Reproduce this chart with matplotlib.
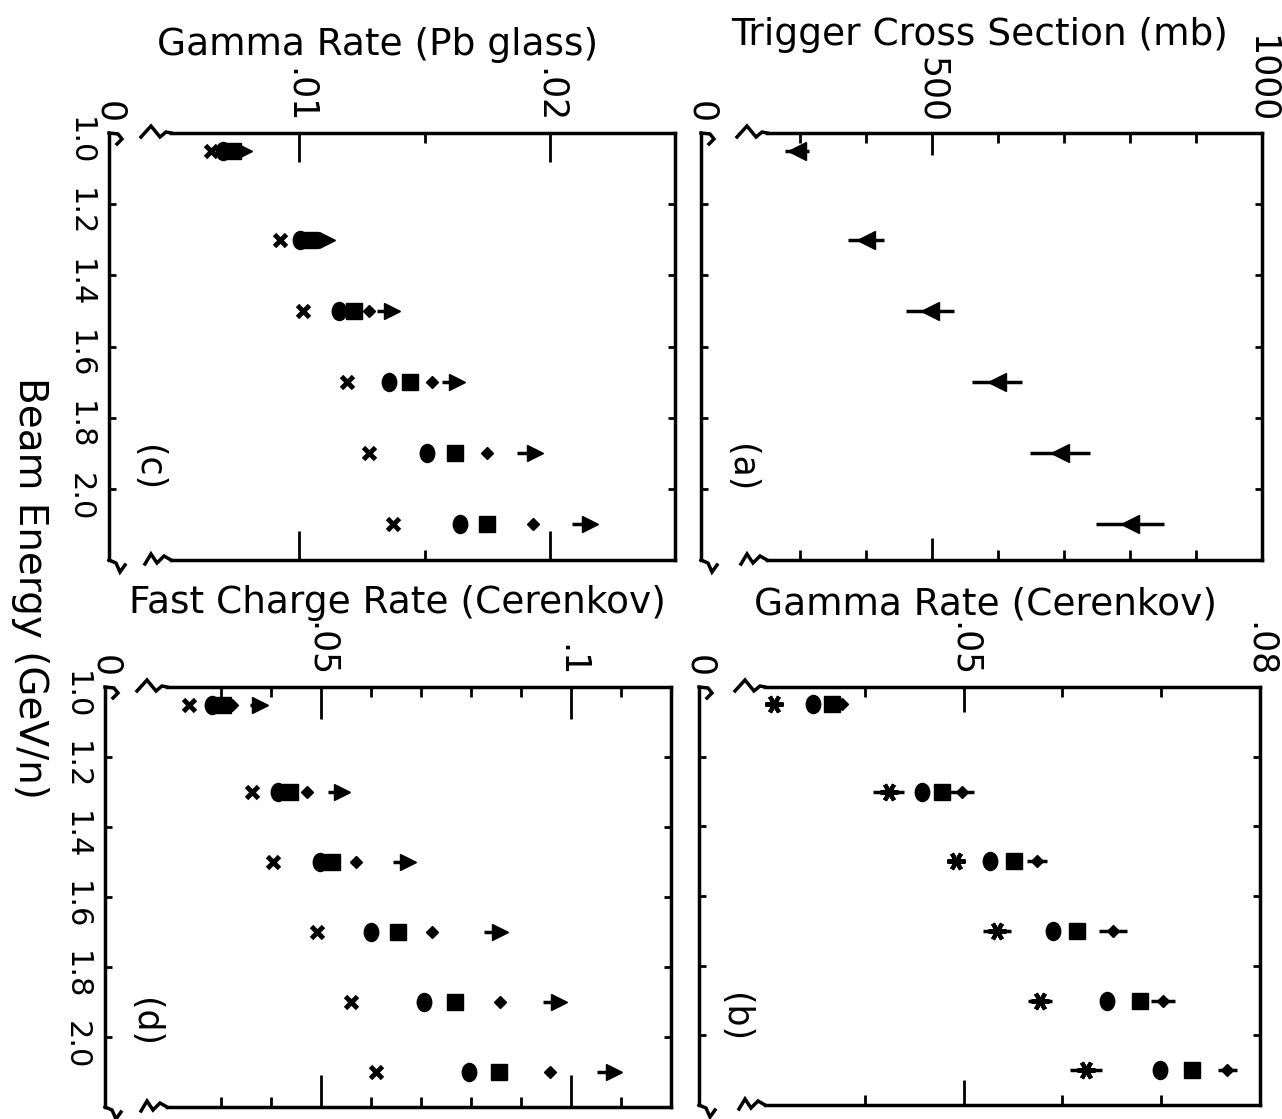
import numpy as np
import matplotlib
matplotlib.use('Agg')
import matplotlib.pyplot as plt
from matplotlib.lines import Line2D
from matplotlib.path import Path
import matplotlib.transforms as mtransforms

# beam energy of each row (GeV/n)
energy = [1.05, 1.3, 1.5, 1.7, 1.9, 2.1]
energy_ticks = [1.0, 1.2, 1.4, 1.6, 1.8, 2.0]
energy_labels = ['1.0', '1.2', '1.4', '1.6', '1.8', '2.0']

# (a) trigger cross section (mb)
sigma = [295, 400, 497, 598, 694, 800]
sigma_err = [18, 28, 36, 38, 45, 52]

# (c) gamma rate, Pb glass
c_cross = [0.00648, 0.00924, 0.01016, 0.0119, 0.0128, 0.01372]
c_circle = [0.00696, 0.01004, 0.0116, 0.0136, 0.0151, 0.0164]
c_square = [0.00736, 0.01044, 0.0122, 0.0144, 0.0162, 0.01748]
c_diamond = [0.0076, 0.0109, 0.0128, 0.0153, 0.0175, 0.01932]
c_arrow = [0.0078, 0.0111, 0.0137, 0.0163, 0.0194, 0.0216]
c_arrow_tail = [0.0004, 0.0005, 0.0006, 0.0006, 0.0007, 0.0007]

# (d) fast charge rate, Cerenkov
d_cross = [0.0236, 0.0362, 0.0404, 0.0492, 0.0559, 0.0609]
d_circle = [0.0282, 0.0414, 0.0498, 0.0600, 0.0706, 0.0796]
d_square = [0.0304, 0.0438, 0.0522, 0.0653, 0.0767, 0.0855]
d_diamond = [0.0322, 0.0472, 0.0569, 0.0722, 0.0857, 0.0958]
d_arrow = [0.0378, 0.0542, 0.0673, 0.0857, 0.0976, 0.1086]
d_arrow_tail = [0.002, 0.0028, 0.003, 0.0032, 0.0032, 0.0035]

# (b) gamma rate, Cerenkov
b_star = [0.0308, 0.0424, 0.0492, 0.0534, 0.0577, 0.0624]
b_star_err = [0.0, 0.0016, 0.0, 0.0014, 0.0012, 0.0016]
b_circle = [0.0347, 0.0458, 0.0527, 0.0590, 0.0645, 0.0699]
b_square = [0.0367, 0.0478, 0.0551, 0.0615, 0.0678, 0.0731]
b_diamond = [0.0377, 0.0498, 0.0574, 0.0651, 0.0702, 0.0767]
b_diamond_err = [0.0, 0.0012, 0.001, 0.0014, 0.0012, 0.001]

W, H = 1282, 1119
fig = plt.figure(figsize=(W / 100, H / 100), dpi=100)
FONT = 'DejaVu Sans'

oval = Path.unit_circle().transformed(mtransforms.Affine2D().scale(0.8, 1.0))
star = (6, 2, 90)


def box(l, t, r, b):
    return [l / W, 1 - b / H, (r - l) / W, (b - t) / H]


def zig(ax, pts, top, axw, axh):
    xs = [p[0] / axw for p in pts]
    if top:
        ys = [1 - p[1] / axh for p in pts]
    else:
        ys = [-p[1] / axh for p in pts]
    ax.add_line(Line2D(xs, ys, transform=ax.transAxes, clip_on=False,
                       color='black', lw=2.5, solid_joinstyle='miter'))


def make_panel(l, t, r, b, xlim, brk, major, major_labels, minor, major_len, ylab):
    ax = fig.add_axes(box(l, t, r, b))
    axw, axh = r - l, b - t
    ax.set_xlim(*xlim)
    ax.set_ylim(2.2, 1.0)
    for s in ax.spines.values():
        s.set_linewidth(2.5)
    xbrk = xlim[0] + brk / axw * (xlim[1] - xlim[0])
    ax.spines['top'].set_bounds(xbrk, xlim[1])
    ax.spines['bottom'].set_bounds(xbrk, xlim[1])
    # axis break marks at the left corners
    zig(ax, [(0, 0), (9, 1), (13, 6), (8, 11)], True, axw, axh)
    zig(ax, [(brk - 30, 4), (brk - 20, -7), (brk - 11, 4), (brk - 5, -1), (brk, 0)], True, axw, axh)
    zig(ax, [(0, 0), (7, 3), (11, 12), (16, 5)], False, axw, axh)
    zig(ax, [(brk - 26, 4), (brk - 20, -6), (brk - 14, 3), (brk - 7, -4), (brk, 0)], False, axw, axh)

    ax.set_xticks(major)
    ax.set_xticklabels(major_labels, family=FONT, fontsize=25)
    ax.set_xticks(minor, minor=True)
    ax.tick_params(axis='x', which='both', direction='in', top=True, bottom=True,
                   labeltop=True, labelbottom=False, width=2, labelrotation=-90)
    ax.tick_params(axis='x', which='major', length=major_len, pad=7)
    ax.tick_params(axis='x', which='minor', length=7)

    ax.set_yticks(energy_ticks)
    ax.tick_params(axis='y', direction='in', left=True, right=True, length=5, width=2,
                   labelleft=ylab, pad=10)
    if ylab:
        ax.set_yticklabels(energy_labels, family=FONT, fontsize=22, rotation=-90,
                           va='center')
        off = mtransforms.ScaledTranslation(0, -0.08, fig.dpi_scale_trans)
        for lab in ax.get_yticklabels():
            lab.set_transform(lab.get_transform() + off)
    return ax


def rate_points(ax, first, first_marker, circle, square, diamond, arrow=None, tail=None):
    kw = dict(ls='none', color='black', zorder=3, clip_on=False)
    if first_marker == 'x':
        ax.plot(first, energy, marker='x', ms=9, mew=3.5, **kw)
    ax.plot(circle, energy, marker=oval, ms=13, **kw)
    ax.plot(square, energy, marker='s', ms=12, **kw)
    ax.plot(diamond, energy, marker='D', ms=6.5, **kw)
    if arrow is not None:
        ax.errorbar(arrow, energy, xerr=[tail, [0] * len(tail)], fmt='>', ms=12,
                    color='black', elinewidth=2.5, capsize=0, zorder=3)


# (c) top left
ax_c = make_panel(109, 133, 675, 560, (0.0024, 0.0250), 62,
                  [0.0024, 0.01, 0.02], ['0', '.01', '.02'], [0.015], 21, True)
rate_points(ax_c, c_cross, 'x', c_circle, c_square, c_diamond, c_arrow, c_arrow_tail)

# (a) top right
ax_a = make_panel(701, 133, 1262, 560, (150, 1000), 66,
                  [150, 500, 1000], ['0', '500', '1000'],
                  [300, 400, 600, 700, 800, 900], 16, False)
ax_a.errorbar(sigma, energy, xerr=sigma_err, fmt='<', ms=13, color='black',
              elinewidth=2.5, capsize=0)

# (d) bottom left
ax_d = make_panel(105, 687, 671, 1107, (0.0068, 0.1200), 62,
                  [0.0068, 0.05, 0.1], ['0', '.05', '.1'],
                  [0.03, 0.04, 0.06, 0.07, 0.08, 0.09, 0.11], 23, True)
rate_points(ax_d, d_cross, 'x', d_circle, d_square, d_diamond, d_arrow, d_arrow_tail)

# (b) bottom right
ax_b = make_panel(699, 687, 1260, 1105, (0.0232, 0.0800), 66,
                  [0.0232, 0.05, 0.08], ['0', '.05', '.08'],
                  [0.04, 0.06, 0.07], 18, False)
ax_b.errorbar(b_star, energy, xerr=b_star_err, fmt='none', ecolor='black',
              elinewidth=2.5, capsize=0)
ax_b.plot(b_star, energy, ls='none', marker=star, ms=13, mew=3, color='black')
ax_b.errorbar(b_diamond, energy, xerr=b_diamond_err, fmt='none', ecolor='black',
              elinewidth=2.5, capsize=0)
rate_points(ax_b, None, None, b_circle, b_square, b_diamond)

# titles and labels
fig.text(378 / W, 1 - 45 / H, 'Gamma Rate (Pb glass)', ha='center', va='center',
         fontsize=27, family=FONT)
fig.text(980 / W, 1 - 35 / H, 'Trigger Cross Section (mb)', ha='center', va='center',
         fontsize=27, family=FONT)
fig.text(397 / W, 1 - 603 / H, 'Fast Charge Rate (Cerenkov)', ha='center', va='center',
         fontsize=27, family=FONT)
fig.text(985 / W, 1 - 605 / H, 'Gamma Rate (Cerenkov)', ha='center', va='center',
         fontsize=27, family=FONT)
fig.text(30 / W, 1 - 588 / H, 'Beam Energy (GeV/n)', ha='center', va='center',
         rotation=-90, fontsize=28, family=FONT)

for x, y, s in [(148, 468, '(c)'), (741, 468, '(a)'), (145, 1022, '(d)'), (735, 1018, '(b)')]:
    fig.text(x / W, 1 - y / H, s, ha='center', va='center', rotation=-90,
             fontsize=25, family=FONT)

fig.savefig('out.png', dpi=100)
